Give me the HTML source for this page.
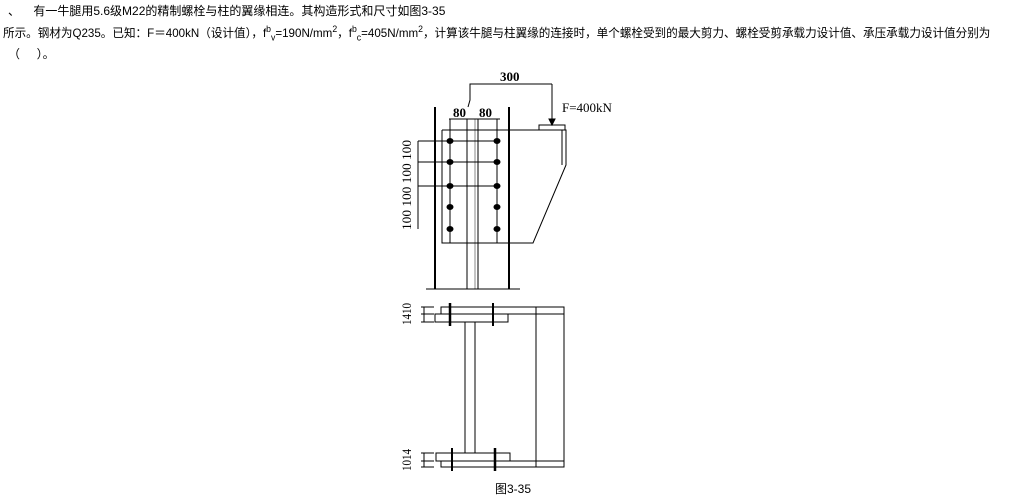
<!DOCTYPE html>
<html><head><meta charset="utf-8"><style>
body{margin:0;background:#fff;width:1022px;height:501px;overflow:hidden;position:relative;font-family:"Liberation Mono","Noto Sans CJK SC",monospace;}
.t{position:absolute;font-size:12px;color:#000;white-space:nowrap;font-family:"Liberation Sans","Noto Sans CJK SC",sans-serif;transform-origin:0 0;}
sup,sub{font-size:9px;line-height:0}
</style></head><body>
<div class="t" style="left:8px;top:2px">、&nbsp;&nbsp;&nbsp;&nbsp;有一牛腿用5.6级M22的精制螺栓与柱的翼缘相连。其构造形式和尺寸如图3-35</div>
<div class="t" style="left:3px;top:24px;transform:scaleX(0.965)">所示。钢材为Q235。已知：F＝400kN（设计值），f<sup>b</sup><sub>v</sub>=190N/mm<sup>2</sup>，f<sup>b</sup><sub>c</sub>=405N/mm<sup>2</sup>，计算该牛腿与柱翼缘的连接时，单个螺栓受到的最大剪力、螺栓受剪承载力设计值、承压承载力设计值分别为</div>
<div class="t" style="left:8px;top:45px">（&nbsp;&nbsp;&nbsp;&nbsp;&nbsp;）。</div>
<svg width="1022" height="501" style="position:absolute;left:0;top:0" font-family="Liberation Serif,serif">
<g stroke="#000" fill="none" stroke-width="1">
<polyline points="468,107 470,100 470,84 552,84"/>
<line x1="552" y1="84" x2="552" y2="124"/>
<polygon points="549,119 555,119 552,125" fill="#000"/>
<line x1="435" y1="107" x2="435" y2="289" stroke-width="2"/>
<line x1="509" y1="107" x2="509" y2="289" stroke-width="2"/>
<line x1="467" y1="119" x2="467" y2="289"/>
<line x1="475" y1="119" x2="475" y2="289" stroke="#888"/>
<line x1="478" y1="119" x2="478" y2="289"/>
<line x1="426" y1="289" x2="520" y2="289"/>
<line x1="449" y1="119" x2="500" y2="119"/>
<line x1="450" y1="119" x2="450" y2="243"/>
<line x1="497" y1="119" x2="497" y2="243"/>
<polyline points="442,130 566,130 566,165 533,243 442,243 442,130"/>
<line x1="562" y1="130" x2="562" y2="165"/>
<rect x="539" y="125" width="26" height="5"/>
<line x1="418" y1="141" x2="500" y2="141"/>
<line x1="418" y1="162" x2="500" y2="162"/>
<line x1="418" y1="186" x2="500" y2="186"/>
<line x1="418" y1="141" x2="418" y2="229"/>
<rect x="441" y="307" width="123" height="7"/>
<rect x="435" y="314" width="73" height="8"/>
<line x1="536" y1="307" x2="536" y2="467"/>
<line x1="564" y1="307" x2="564" y2="467"/>
<line x1="465" y1="322" x2="465" y2="453"/>
<line x1="475" y1="322" x2="475" y2="453"/>
<rect x="436" y="453" width="74" height="8"/>
<rect x="441" y="461" width="123" height="6"/>
<line x1="450" y1="303" x2="450" y2="326" stroke-width="2.5"/>
<line x1="493" y1="303" x2="493" y2="326" stroke-width="2"/>
<line x1="452" y1="448" x2="452" y2="471" stroke-width="2"/>
<line x1="495" y1="448" x2="495" y2="471" stroke-width="2.5"/>
<line x1="424" y1="307" x2="424" y2="322"/>
<line x1="421" y1="307" x2="434" y2="307"/><line x1="421" y1="314" x2="434" y2="314"/><line x1="421" y1="322" x2="434" y2="322"/>
<line x1="424" y1="453" x2="424" y2="467"/>
<line x1="421" y1="453" x2="434" y2="453"/><line x1="421" y1="461" x2="434" y2="461"/><line x1="421" y1="467" x2="434" y2="467"/>
</g>
<g fill="#000">
<ellipse cx="450" cy="141" rx="3.5" ry="3"/><ellipse cx="497" cy="141" rx="3.5" ry="3"/>
<ellipse cx="450" cy="162" rx="3.5" ry="3"/><ellipse cx="497" cy="162" rx="3.5" ry="3"/>
<ellipse cx="450" cy="186" rx="3.5" ry="3"/><ellipse cx="497" cy="186" rx="3.5" ry="3"/>
<ellipse cx="450" cy="207" rx="3.5" ry="3"/><ellipse cx="497" cy="207" rx="3.5" ry="3"/>
<ellipse cx="450" cy="229" rx="3.5" ry="3"/><ellipse cx="497" cy="229" rx="3.5" ry="3"/>
</g>
<g font-size="13" fill="#000" font-weight="bold">
<text x="500" y="81">300</text>
<text x="453" y="117">80</text>
<text x="479" y="117">80</text>
<text x="562" y="112" font-weight="normal" font-size="13">F=400kN</text>
<text transform="translate(411,230) rotate(-90)" font-weight="normal" textLength="90" lengthAdjust="spacingAndGlyphs">100 100 100 100</text>
<text transform="translate(411,325) rotate(-90)" font-weight="normal" textLength="22" lengthAdjust="spacingAndGlyphs">1410</text>
<text transform="translate(411,471) rotate(-90)" font-weight="normal" textLength="22" lengthAdjust="spacingAndGlyphs">1014</text>
</g>
<text x="495" y="493" font-size="12" font-family="Liberation Sans,Noto Sans CJK SC,sans-serif">图3-35</text>
</svg>
</body></html>
